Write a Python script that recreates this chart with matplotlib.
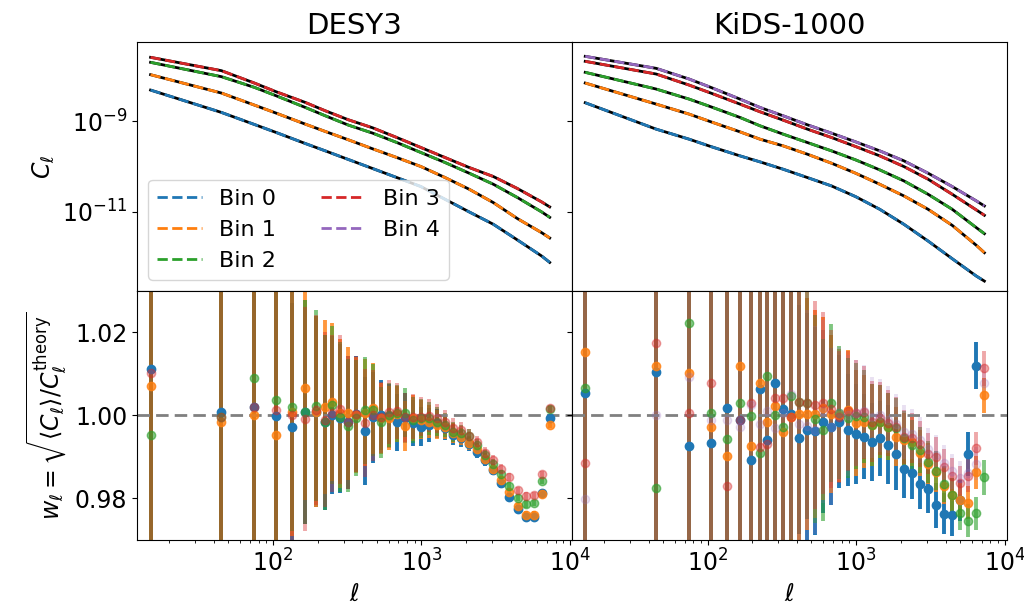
import numpy as np
import matplotlib
matplotlib.use("Agg")
import matplotlib.pyplot as plt
from matplotlib.ticker import NullLocator

plt.rcParams['font.size'] = 17

# multipole bin centres (linear bins up to 225, log bins above)
ell = np.array([15, 45, 75, 105, 135, 165, 195, 225, 251, 285, 322, 365, 414, 469,
                531, 602, 682, 772, 875, 991, 1123, 1272, 1441, 1633, 1850, 2096,
                2375, 2690, 3048, 3453, 3912, 4432, 5021, 5689, 6445, 7302])

ell_knots = np.array([15, 45, 75, 105, 165, 225, 322, 469, 682, 991, 1441, 2096,
                      3048, 4432, 6445, 7302])

# log10(C_ell), DESY3
des_logcl_0 = [-8.304, -8.800, -9.067, -9.244, -9.489, -9.652, -9.844, -10.044,
               -10.244, -10.444, -10.726, -11.007, -11.281, -11.630, -11.985, -12.126]
des_logcl_1 = [-7.963, -8.370, -8.637, -8.815, -9.059, -9.222, -9.407, -9.607,
               -9.800, -10.000, -10.244, -10.504, -10.800, -11.156, -11.467, -11.585]
des_logcl_2 = [-7.689, -8.007, -8.244, -8.430, -8.689, -8.874, -9.081, -9.259,
               -9.467, -9.689, -9.911, -10.148, -10.393, -10.689, -11.007, -11.126]
des_logcl_3 = [-7.578, -7.874, -8.148, -8.341, -8.578, -8.763, -8.963, -9.141,
               -9.356, -9.578, -9.800, -10.022, -10.222, -10.489, -10.785, -10.896]

# log10(C_ell), KiDS-1000
kids_logcl_0 = [-8.585, -9.170, -9.393, -9.556, -9.763, -9.896, -10.059, -10.244,
                -10.430, -10.667, -10.948, -11.281, -11.652, -12.044, -12.430, -12.541]
kids_logcl_1 = [-8.148, -8.615, -8.837, -9.007, -9.230, -9.393, -9.541, -9.726,
                -9.926, -10.148, -10.393, -10.652, -10.948, -11.304, -11.748, -11.911]
kids_logcl_2 = [-7.911, -8.281, -8.504, -8.674, -8.911, -9.096, -9.281, -9.467,
                -9.652, -9.852, -10.074, -10.319, -10.615, -10.948, -11.356, -11.489]
kids_logcl_3 = [-7.667, -7.948, -8.193, -8.370, -8.615, -8.785, -8.970, -9.170,
                -9.356, -9.556, -9.763, -10.000, -10.281, -10.615, -10.963, -11.081]
kids_logcl_4 = [-7.556, -7.822, -8.059, -8.244, -8.504, -8.689, -8.874, -9.074,
                -9.259, -9.452, -9.652, -9.874, -10.148, -10.444, -10.763, -10.874]

# w_ell ratios, DESY3
des_w_0 = [1.0112, 1.0009, 1.0020, 0.9999, 0.9971, 1.0009, 1.0009, 0.9983, 1.0001,
           0.9993, 0.9983, 1.0003, 0.9963, 0.9995, 1.0001, 0.9998, 0.9983, 0.9993,
           0.9981, 0.9973, 0.9977, 0.9981, 0.9969, 0.9953, 0.9945, 0.9931, 0.9912,
           0.9892, 0.9868, 0.9837, 0.9803, 0.9775, 0.9756, 0.9755, 0.9813, 0.9993]
des_w_1 = [1.0071, 0.9985, 1.0001, 0.9952, 1.0009, 1.0065, 1.0009, 1.0021, 1.0033,
           1.0005, 1.0005, 1.0001, 1.0007, 1.0017, 0.9993, 0.9993, 1.0003, 0.9975,
           0.9993, 0.9989, 0.9985, 0.9977, 0.9973, 0.9957, 0.9949, 0.9934, 0.9918,
           0.9896, 0.9872, 0.9844, 0.9815, 0.9781, 0.9761, 0.9761, 0.9811, 0.9977]
des_w_2 = [0.9953, 0.9995, 1.0089, 1.0038, 1.0021, 1.0009, 1.0023, 0.9983, 1.0025,
           0.9996, 0.9975, 0.9993, 1.0012, 1.0013, 0.9983, 1.0001, 1.0005, 1.0007,
           0.9989, 0.9993, 0.9993, 0.9985, 0.9977, 0.9961, 0.9957, 0.9950, 0.9929,
           0.9904, 0.9884, 0.9858, 0.9829, 0.9802, 0.9786, 0.9789, 0.9842, 1.0015]
des_w_3 = [1.0102, 0.9995, 1.0020, 1.0012, 1.0000, 0.9991, 1.0013, 0.9990, 1.0005,
           1.0015, 0.9983, 1.0003, 0.9981, 1.0000, 0.9995, 1.0009, 1.0011, 0.9995,
           0.9997, 0.9997, 0.9999, 0.9993, 0.9985, 0.9969, 0.9965, 0.9950, 0.9935,
           0.9910, 0.9892, 0.9871, 0.9852, 0.9819, 0.9806, 0.9807, 0.9858, 1.0017]
des_err = [0.2, 0.1, 0.07, 0.045, 0.03, 0.027, 0.023, 0.021, 0.019, 0.018, 0.016,
           0.014, 0.013, 0.011, 0.0085, 0.0077, 0.0068, 0.006, 0.0055, 0.0047, 0.004,
           0.0035, 0.0029, 0.0024, 0.002, 0.0017, 0.0015, 0.0013, 0.0012, 0.0011,
           0.001, 0.0009, 0.0009, 0.0008, 0.0008, 0.0008]

# w_ell ratios, KiDS-1000
kids_w_0 = [1.0054, 1.0104, 0.9926, 0.9934, 1.0018, 0.9989, 0.9893, 1.0063, 0.9940,
            1.0077, 1.0016, 1.0003, 0.9945, 0.9966, 0.9962, 0.9985, 0.9973, 0.9985,
            0.9965, 0.9955, 0.9949, 0.9937, 0.9945, 0.9929, 0.9907, 0.9872, 0.9861,
            0.9834, 0.9823, 0.9783, 0.9763, 0.9759, 0.9795, 0.9907, 1.0120, np.nan]
kids_w_1 = [1.0154, 1.0120, 1.0102, 0.9973, 0.9903, 1.0118, 0.9927, 1.0079, 0.9985,
            1.0023, 0.9961, 0.9997, 1.0003, 1.0003, 1.0003, 1.0017, 1.0003, 1.0000,
            1.0013, 0.9981, 0.9985, 0.9977, 0.9985, 0.9973, 0.9949, 0.9941, 0.9937,
            0.9909, 0.9884, 0.9863, 0.9831, 0.9807, 0.9797, 0.9790, 0.9863, 1.0048]
kids_w_2 = [1.0066, 0.9826, 1.0222, 1.0007, 0.9943, 1.0030, 0.9999, 0.9909, 1.0095,
            1.0001, 0.9973, 1.0047, 1.0033, 1.0030, 0.9991, 0.9965, 1.0030, 1.0007,
            0.9993, 0.9999, 0.9997, 0.9977, 0.9985, 0.9973, 0.9969, 0.9945, 0.9929,
            0.9917, 0.9888, 0.9866, 0.9835, 0.9807, 0.9764, 0.9746, 0.9764, 0.9851]
kids_w_3 = [0.9886, 1.0175, 1.0007, 1.0079, 0.9831, 0.9990, 1.0030, 0.9925, 0.9930,
            1.0041, 1.0041, 0.9997, 1.0033, 1.0030, 1.0025, 1.0030, 1.0015, 0.9996,
            1.0010, 1.0005, 1.0008, 0.9985, 0.9993, 0.9981, 0.9973, 0.9949, 0.9945,
            0.9931, 0.9908, 0.9900, 0.9876, 0.9855, 0.9837, 0.9855, 0.9921, 1.0114]
kids_w_4 = [0.9798, 1.0001, 1.0093, 0.9989, 0.9990, 0.9971, 1.0025, 0.9980, 1.0010,
            0.9969, 1.0005, 1.0052, 0.9980, 0.9975, 0.9965, 1.0010, 0.9973, 1.0005,
            1.0000, 1.0005, 1.0010, 0.9995, 1.0000, 0.9990, 0.9980, 0.9960, 0.9955,
            0.9940, 0.9920, 0.9905, 0.9885, 0.9865, 0.9850, 0.9860, 0.9884, 1.0079]
kids_err = [0.2, 0.15, 0.1, 0.08, 0.07, 0.06, 0.055, 0.05, 0.045, 0.04, 0.038, 0.035,
            0.032, 0.028, 0.025, 0.022, 0.019, 0.016, 0.0145, 0.0128, 0.0112, 0.0098,
            0.0088, 0.008, 0.0072, 0.0065, 0.006, 0.0055, 0.005, 0.0047, 0.0044,
            0.0042, 0.004, 0.004, 0.004, 0.0042]
kids_err_0 = [0.2, 0.15, 0.1, 0.08, 0.07, 0.06, 0.055, 0.05, 0.045, 0.04, 0.038, 0.035,
              0.032, 0.028, 0.025, 0.022, 0.019, 0.016, 0.0135, 0.012, 0.0102, 0.0094,
              0.009, 0.0095, 0.0086, 0.007, 0.0063, 0.006, 0.0059, 0.0055, 0.005,
              0.005, 0.005, 0.0052, 0.0056, 0.0056]

surveys = ["DESY3", "KiDS-1000"]
logcls = [[des_logcl_0, des_logcl_1, des_logcl_2, des_logcl_3],
          [kids_logcl_0, kids_logcl_1, kids_logcl_2, kids_logcl_3, kids_logcl_4]]
ws = [[des_w_0, des_w_1, des_w_2, des_w_3],
      [kids_w_0, kids_w_1, kids_w_2, kids_w_3, kids_w_4]]
errs = [[des_err] * 4, [kids_err_0, kids_err, kids_err, kids_err, kids_err]]
alphas = [1.0, 0.8, 0.6, 0.4, 0.2]

fig, axes = plt.subplots(2, 2, figsize=(10.24, 6.10), dpi=100,
                         sharex=True, sharey='row')
fig.subplots_adjust(left=0.134, right=0.983, top=0.931, bottom=0.115,
                    wspace=0, hspace=0)

for j in range(2):
    ax = axes[0, j]
    ax.set_xscale('log')
    ax.set_yscale('log')
    for i, lc in enumerate(logcls[j]):
        cl = 10 ** np.array(lc)
        ax.plot(ell_knots, cl, color='k', lw=2)
        ax.plot(ell_knots, cl, '--', color=f'C{i}', lw=2, label=f'Bin {i}')
    ax.set_title(surveys[j], fontsize=21)

    ax = axes[1, j]
    for i, w in enumerate(ws[j]):
        ax.errorbar(ell, w, yerr=errs[j][i], fmt='o', color=f'C{i}', ms=6,
                    elinewidth=2.8, alpha=alphas[i])
    ax.axhline(1.0, color='grey', ls='--', lw=2, dashes=(4.5, 2.2))
    ax.set_xlabel(r'$\ell$')

axes[1, 0].set_xlim(12.2, 1.03e4)

axes[0, 0].set_ylim(10 ** -12.76, 10 ** -7.24)
axes[0, 0].set_yticks([1e-11, 1e-9])
axes[0, 0].yaxis.set_minor_locator(NullLocator())

axes[1, 0].set_ylim(0.97, 1.03)
axes[1, 0].set_yticks([0.98, 1.00, 1.02])

axes[0, 0].set_ylabel(r'$C_\ell$')
axes[1, 0].set_ylabel(r'$w_\ell = \sqrt{\langle C_\ell \rangle / C_\ell^{\rm theory}}$')

handles, labels = axes[0, 1].get_legend_handles_labels()
axes[0, 0].legend(handles, labels, loc='lower left', ncol=2, fontsize=16)

fig.savefig('out.png', dpi=100)
